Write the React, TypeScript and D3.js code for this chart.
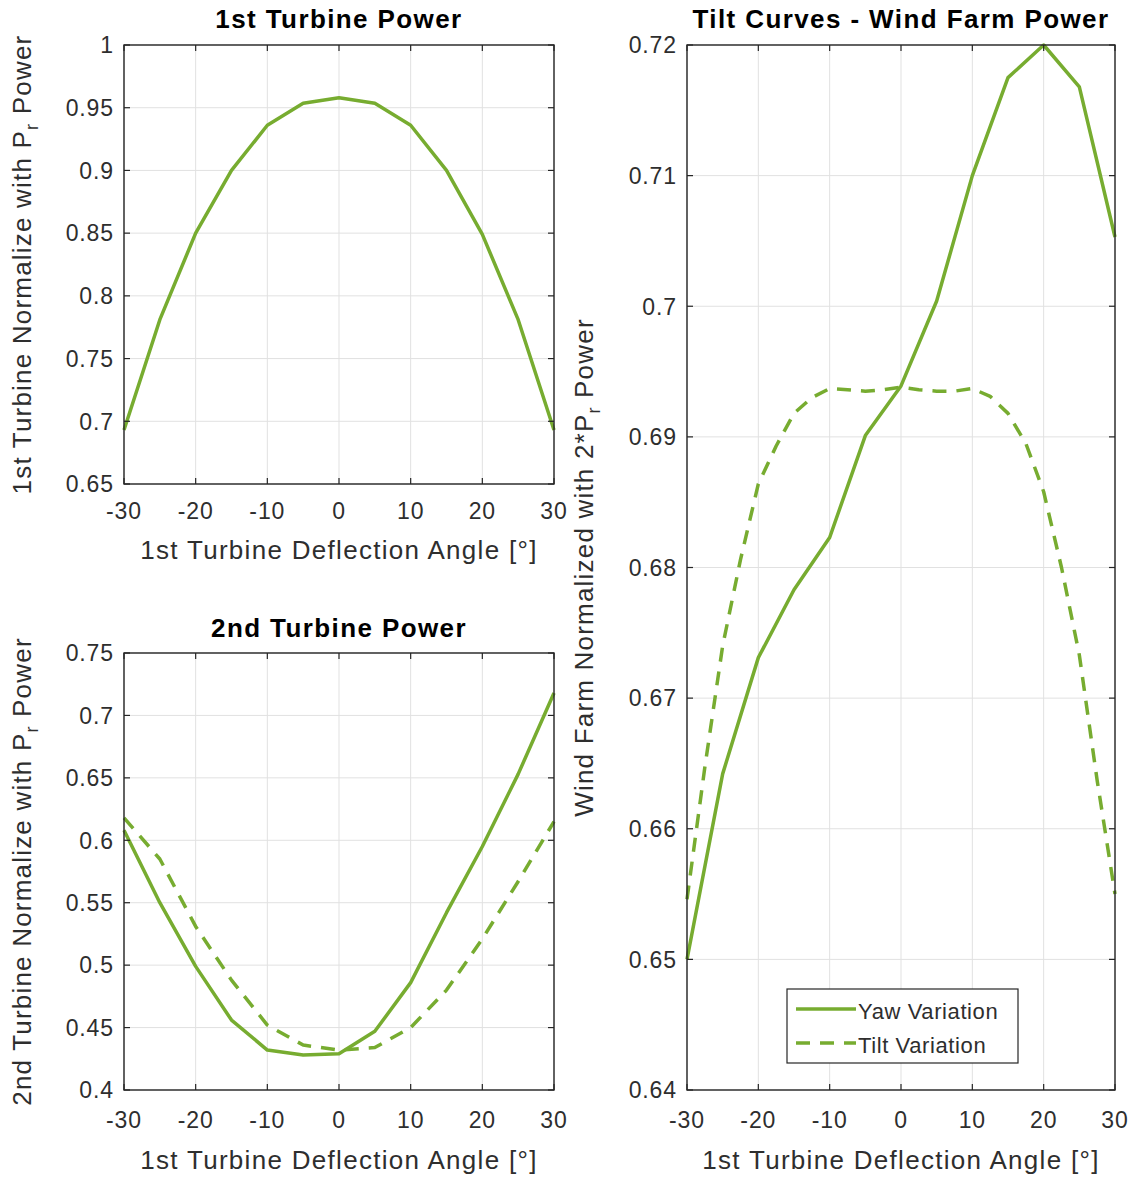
import React from "react";
import * as d3 from "d3";

// ---------- data ----------
const angles = [-30, -25, -20, -15, -10, -5, 0, 5, 10, 15, 20, 25, 30];
const turbine1Power = [0.693, 0.781, 0.85, 0.9, 0.936, 0.9535, 0.958, 0.9535, 0.936, 0.9, 0.849, 0.781, 0.693];
const turbine2Yaw = [0.608, 0.55, 0.499, 0.456, 0.432, 0.428, 0.429, 0.447, 0.486, 0.542, 0.595, 0.653, 0.718];
const turbine2Tilt = [0.618, 0.585, 0.531, 0.488, 0.452, 0.436, 0.432, 0.434, 0.45, 0.48, 0.521, 0.567, 0.615];
const farmYaw = [0.65, 0.6642, 0.6731, 0.6783, 0.6823, 0.6901, 0.6939, 0.7004, 0.71, 0.7175, 0.72, 0.7168, 0.7053];
const farmTiltAngles = [-30, -27.5, -25, -22.5, -20, -17.5, -15, -12.5, -10, -7.5, -5, -2.5, 0, 2.5, 5, 7.5, 10, 12.5, 15, 17.5, 20, 22.5, 25, 27.5, 30];
const farmTilt = [0.6546, 0.6647, 0.674, 0.6806, 0.6864, 0.6893, 0.6918, 0.693, 0.6937, 0.6936, 0.6935, 0.6936, 0.6938, 0.6936, 0.6935, 0.6935, 0.6937, 0.6931, 0.6918, 0.6895, 0.6858, 0.68, 0.6733, 0.6637, 0.655];

const xTicks = [-30, -20, -10, 0, 10, 20, 30];
const yTicks1 = [0.65, 0.7, 0.75, 0.8, 0.85, 0.9, 0.95, 1];
const yTicks2 = [0.4, 0.45, 0.5, 0.55, 0.6, 0.65, 0.7, 0.75];
const yTicks3 = [0.64, 0.65, 0.66, 0.67, 0.68, 0.69, 0.7, 0.71, 0.72];
const legendLabels = ["Yaw Variation", "Tilt Variation"];

const GREEN = "#77AC30";
const AXIS = "#262626";
const TEXT = "#2e2e2e";
const GRID = "#e1e1e1";
const FONT = "'Liberation Sans', Arial, Helvetica, sans-serif";
const DASH = "14 10";

type Series = { xs: number[]; ys: number[]; dashed?: boolean };

function fmt(v: number) {
  return String(+v.toFixed(2));
}

function Panel(props: {
  left: number; right: number; top: number; bottom: number;
  yDomain: [number, number]; yTicks: number[];
  series: Series[]; title: string;
  yLabelPre: string; yLabelPost: string; yLabelX: number;
  tickBaseline: number; xLabelBaseline: number; titleBaseline: number;
}) {
  const { left, right, top, bottom, yDomain, yTicks, series } = props;
  const x = d3.scaleLinear().domain([-30, 30]).range([left, right]);
  const y = d3.scaleLinear().domain(yDomain).range([bottom, top]);
  const line = d3.line<[number, number]>().x((d) => x(d[0])).y((d) => y(d[1]));
  const cx = (left + right) / 2;
  const cy = (top + bottom) / 2;
  const tl = 6;
  return (
    <g>
      {xTicks.map((t) => (
        <line key={"gx" + t} x1={x(t)} x2={x(t)} y1={top} y2={bottom} stroke={GRID} strokeWidth={1} />
      ))}
      {yTicks.map((t) => (
        <line key={"gy" + t} x1={left} x2={right} y1={y(t)} y2={y(t)} stroke={GRID} strokeWidth={1} />
      ))}
      {series.map((s, i) => (
        <path
          key={"s" + i}
          d={line(s.xs.map((v, j) => [v, s.ys[j]] as [number, number])) || ""}
          fill="none"
          stroke={GREEN}
          strokeWidth={3.5}
          strokeDasharray={s.dashed ? DASH : undefined}
          strokeLinejoin="round"
        />
      ))}
      {xTicks.map((t) => (
        <g key={"tx" + t}>
          <line x1={x(t)} x2={x(t)} y1={bottom} y2={bottom - tl} stroke={AXIS} strokeWidth={1.2} />
          <line x1={x(t)} x2={x(t)} y1={top} y2={top + tl} stroke={AXIS} strokeWidth={1.2} />
          <text x={x(t)} y={props.tickBaseline} textAnchor="middle" fontSize={23} letterSpacing={0.9} fill={TEXT} fontFamily={FONT}>
            {fmt(t)}
          </text>
        </g>
      ))}
      {yTicks.map((t) => (
        <g key={"ty" + t}>
          <line x1={left} x2={left + tl} y1={y(t)} y2={y(t)} stroke={AXIS} strokeWidth={1.2} />
          <line x1={right} x2={right - tl} y1={y(t)} y2={y(t)} stroke={AXIS} strokeWidth={1.2} />
          <text x={left - 10} y={y(t)} dy="0.36em" textAnchor="end" fontSize={23} letterSpacing={0.9} fill={TEXT} fontFamily={FONT}>
            {fmt(t)}
          </text>
        </g>
      ))}
      <rect x={left} y={top} width={right - left} height={bottom - top} fill="none" stroke={AXIS} strokeWidth={1.4} />
      <text x={cx} y={props.titleBaseline} textAnchor="middle" fontSize={26} fontWeight="bold" letterSpacing={1.4} fill="#000" fontFamily={FONT}>
        {props.title}
      </text>
      <text x={cx} y={props.xLabelBaseline} textAnchor="middle" fontSize={26} letterSpacing={1.3} fill={TEXT} fontFamily={FONT}>
        1st Turbine Deflection Angle [°]
      </text>
      <text
        transform={`translate(${props.yLabelX},${cy}) rotate(-90)`}
        textAnchor="middle"
        fontSize={26}
        letterSpacing={1.2}
        fill={TEXT}
        fontFamily={FONT}
      >
        {props.yLabelPre}
        <tspan fontSize={18} dy={7}>r</tspan>
        <tspan dy={-7}>{props.yLabelPost}</tspan>
      </text>
    </g>
  );
}

export default function App() {
  const L = { left: 787, top: 989, w: 231, h: 74 };
  return (
    <svg width={1137} height={1178} style={{ position: "absolute", left: 0, top: 0, background: "#fff" }}>
      <rect width={1137} height={1178} fill="#fff" />
      <Panel
        left={124} right={554} top={45} bottom={484}
        yDomain={[0.65, 1]} yTicks={yTicks1}
        series={[{ xs: angles, ys: turbine1Power }]}
        title="1st Turbine Power"
        yLabelPre="1st Turbine Normalize with P" yLabelPost=" Power" yLabelX={31}
        tickBaseline={519} xLabelBaseline={559} titleBaseline={28}
      />
      <Panel
        left={124} right={554} top={653} bottom={1090}
        yDomain={[0.4, 0.75]} yTicks={yTicks2}
        series={[{ xs: angles, ys: turbine2Yaw }, { xs: angles, ys: turbine2Tilt, dashed: true }]}
        title="2nd Turbine Power"
        yLabelPre="2nd Turbine Normalize with P" yLabelPost=" Power" yLabelX={31}
        tickBaseline={1128} xLabelBaseline={1169} titleBaseline={637}
      />
      <Panel
        left={687} right={1115} top={45} bottom={1090}
        yDomain={[0.64, 0.72]} yTicks={yTicks3}
        series={[{ xs: angles, ys: farmYaw }, { xs: farmTiltAngles, ys: farmTilt, dashed: true }]}
        title="Tilt Curves - Wind Farm Power"
        yLabelPre="Wind Farm Normalized with 2*P" yLabelPost=" Power" yLabelX={593}
        tickBaseline={1128} xLabelBaseline={1169} titleBaseline={28}
      />
      <g>
        <rect x={L.left} y={L.top} width={L.w} height={L.h} fill="#fff" stroke={AXIS} strokeWidth={1.2} />
        <line x1={796} x2={856} y1={1009} y2={1009} stroke={GREEN} strokeWidth={3.5} />
        <line x1={796} x2={856} y1={1043} y2={1043} stroke={GREEN} strokeWidth={3.5} strokeDasharray={DASH} />
        <text x={858} y={1019} fontSize={22} letterSpacing={0.6} fill={TEXT} fontFamily={FONT}>{legendLabels[0]}</text>
        <text x={858} y={1053} fontSize={22} letterSpacing={0.6} fill={TEXT} fontFamily={FONT}>{legendLabels[1]}</text>
      </g>
    </svg>
  );
}
